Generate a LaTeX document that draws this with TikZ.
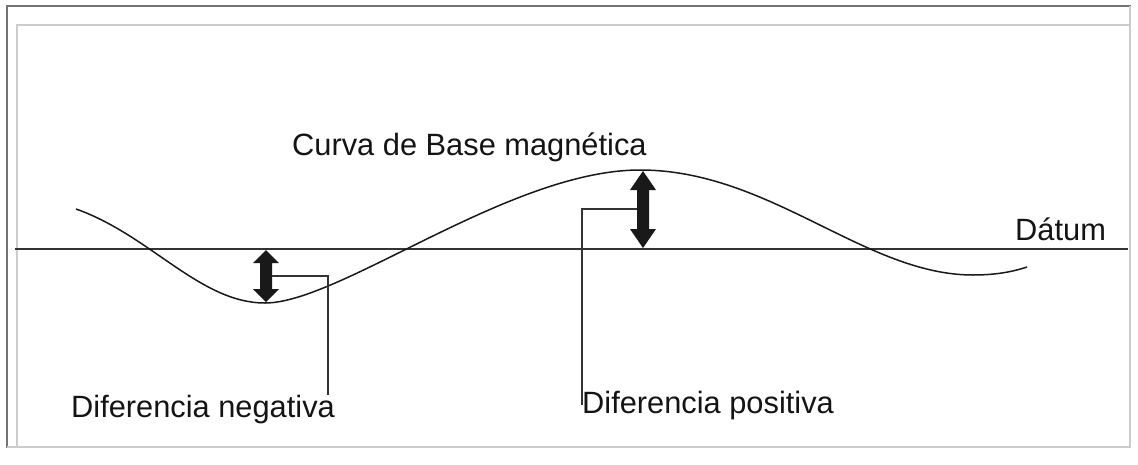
\documentclass[tikz,border=0pt]{standalone}
\usepackage{fontspec}
\setmainfont{Liberation Sans}
\begin{document}
\begin{tikzpicture}[x=1pt,y=-1pt,
  lbl/.style={inner sep=0pt,anchor=base west,font=\fontsize{30.8}{36}\selectfont,text=black!92},
  thin line/.style={line width=1.1pt,draw=black!80},
  dbl/.style={fill=black!90,draw=none}]
\useasboundingbox (0,0) rectangle (1138,464);
% frame
\draw[black!55,line width=1.2pt] (7,448) -- (7,6) -- (1131,6);
\draw[black!20,line width=1.2pt] (17,448) -- (17,25) -- (1131,25);
\draw[black!20,line width=1.4pt] (7,447) -- (1130,447) -- (1130,6);
% datum
\coordinate (dL) at (15,249);
\coordinate (dR) at (1128,249);
\draw[thin line] (dL) -- (dR);
% curve
\coordinate (c0) at (76,209);
\coordinate (m1) at (265,303);
\coordinate (mx) at (640,170);
\coordinate (m2) at (973,275);
\coordinate (c4) at (1027,267);
\draw[line width=1.5pt,black!90] (c0) .. controls (150,235) and (200,303) .. (m1)
  .. controls (340,303) and (510,170) .. (mx)
  .. controls (770,170) and (865,275) .. (m2)
  .. controls (995,275) and (1012,272) .. (c4);
% arrow 1
\fill[dbl] (266,250) -- (279,263) -- (272,263) -- (272,289) -- (279,289) -- (266,302)
  -- (253,289) -- (260,289) -- (260,263) -- (253,263) -- cycle;
% arrow 2
\fill[dbl] (643,171) -- (656,190) -- (649,190) -- (649,229) -- (656,229) -- (643,248)
  -- (630,229) -- (637,229) -- (637,190) -- (630,190) -- cycle;
% labels
\node[lbl] (curva) at (292,155) {Curva de Base magnética};
\node[lbl] (datum) at (1015,240) {Dátum};
\node[lbl] (neg) at (71,417) {Diferencia negativa};
\node[lbl] (pos) at (582,413) {Diferencia positiva};
% leaders
\coordinate (a1) at (272,276);
\coordinate (a1b) at (328,276);
\coordinate (a1c) at (328,395);
\draw[thin line] (a1) -- (a1b) -- (a1c);
\coordinate (a2) at (637,209);
\coordinate (a2b) at (582,209);
\coordinate (a2c) at (582,405);
\draw[thin line] (a2) -- (a2b) -- (a2c);
\end{tikzpicture}
\end{document}
